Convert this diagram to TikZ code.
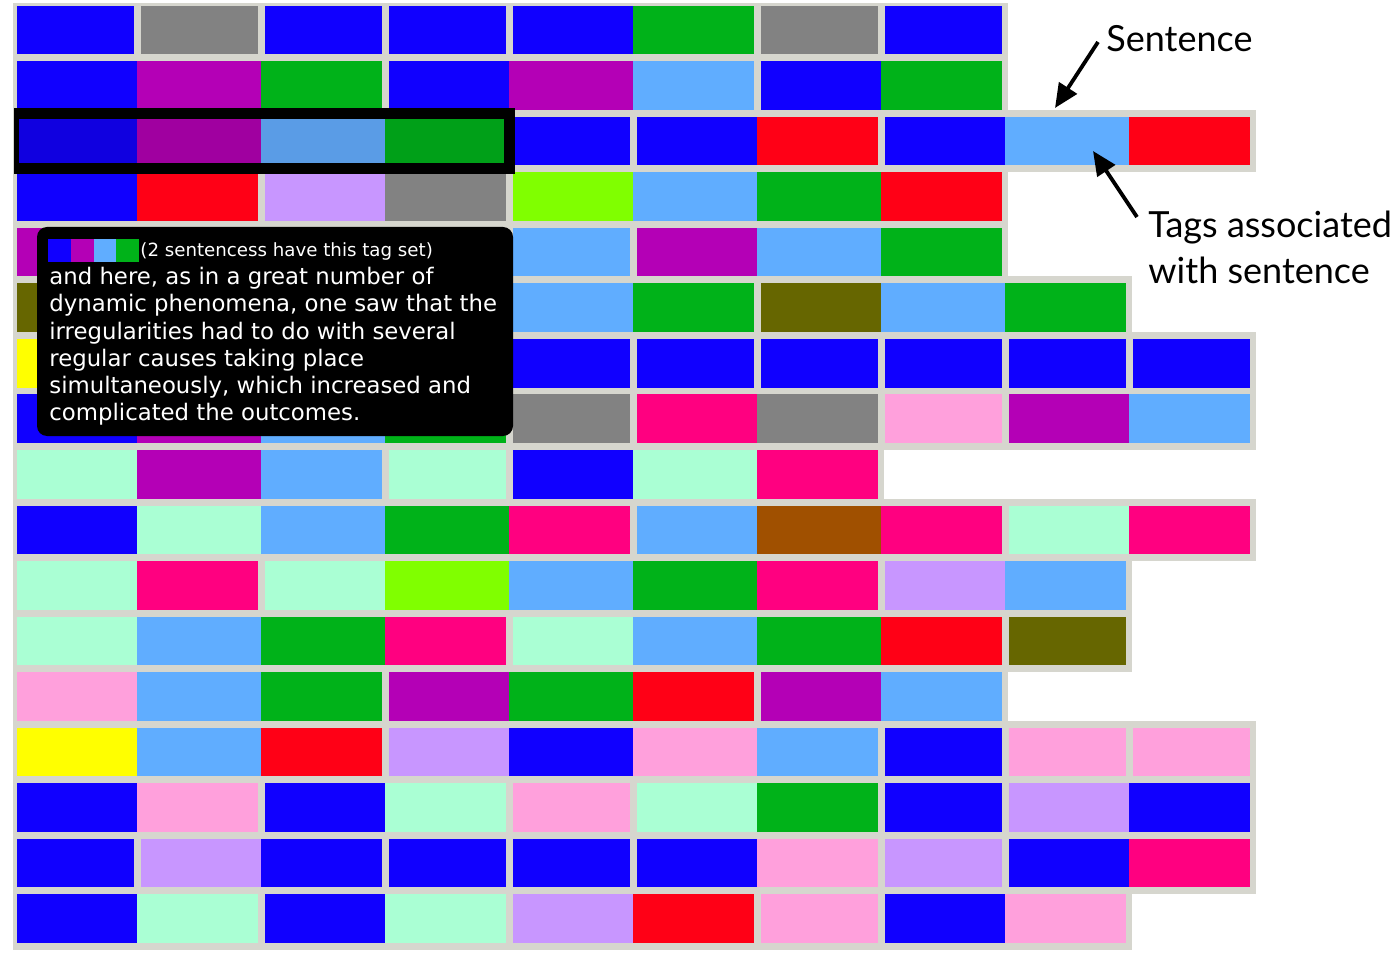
\documentclass[tikz,border=0pt]{standalone}
\usepackage{fontspec}
\usetikzlibrary{arrows.meta}
\newfontfamily\tipfont{DejaVu Sans}
\newfontfamily\labfont{Lato}
\definecolor{cB}{HTML}{1000FF}
\definecolor{cG}{HTML}{828282}
\definecolor{cGr}{HTML}{00B219}
\definecolor{cM}{HTML}{B400B6}
\definecolor{cL}{HTML}{60ADFF}
\definecolor{cR}{HTML}{FF0016}
\definecolor{cV}{HTML}{C896FF}
\definecolor{cY}{HTML}{80FF00}
\definecolor{cO}{HTML}{666600}
\definecolor{cYe}{HTML}{FFFF00}
\definecolor{cP}{HTML}{FF0080}
\definecolor{cK}{HTML}{FFA0DC}
\definecolor{cT}{HTML}{AAFFD4}
\definecolor{cBr}{HTML}{A05000}
\definecolor{dB}{HTML}{1000E0}
\definecolor{dM}{HTML}{A000A0}
\definecolor{dL}{HTML}{5A9CE6}
\definecolor{dGr}{HTML}{00A018}
\definecolor{barcol}{HTML}{D6D6CE}
\pgfdeclarelayer{bg}
\pgfsetlayers{bg,main}
\newcommand\sentrow[3]{%
  \pgfmathsetmacro\ytop{5.7+55.54*#1}%
  \pgfmathsetmacro\ybot{\ytop+48.6}%
  \pgfmathsetmacro\btop{max(\ytop-7,2.7)}%
  \begin{pgfonlayer}{bg}
    \fill[barcol] (13,\btop) rectangle (16+124*#2,\ybot+7);
  \end{pgfonlayer}
  \foreach \cellc/\gapl/\gapr [count=\k from 0] in {#3} {
    \fill[c\cellc] (13+124*\k+4*\gapl,\ytop) rectangle (137+124*\k-3*\gapr,\ybot);
  }%
}
\tikzset{
  tiptext/.style={text=white, inner sep=0pt, anchor=base west, font=\tipfont\fontsize{11.4}{13.65}\selectfont},
  tiphead/.style={text=white, inner sep=0pt, anchor=base west, font=\tipfont\fontsize{9.1}{11}\selectfont},
  labtext/.style={text=black, inner sep=0pt, anchor=base west, font=\labfont\fontsize{18}{23}\selectfont},
  arr/.style={-{Triangle[length=12pt,width=10.5pt]}, line width=1.9pt, black},
}
\begin{document}
\begin{tikzpicture}[x=0.5pt,y=-0.5pt]
\useasboundingbox (0,0) rectangle (1391,962);
\sentrow{0}{8}{B/1/1,G/1/1,B/1/1,B/1/1,B/1/0,Gr/0/1,G/1/1,B/1/1}
\sentrow{1}{8}{B/1/0,M/0/0,Gr/0/1,B/1/0,M/0/0,L/0/1,B/1/0,Gr/0/1}
\sentrow{2}{10}{B/1/0,M/0/0,L/0/0,Gr/0/1,B/1/1,B/1/0,R/0/1,B/1/0,L/0/0,R/0/1}
\sentrow{3}{8}{B/1/0,R/0/1,V/1/0,G/0/1,Y/1/0,L/0/0,Gr/0/0,R/0/1}
\sentrow{4}{8}{M/1/1,B/1/1,L/1/1,Gr/1/1,L/1/1,M/1/0,L/0/0,Gr/0/1}
\sentrow{5}{9}{O/1/1,B/1/1,L/1/1,Gr/1/1,L/1/0,Gr/0/1,O/1/0,L/0/0,Gr/0/1}
\sentrow{6}{10}{Ye/1/1,B/1/1,L/1/1,Gr/1/1,B/1/1,B/1/1,B/1/1,B/1/1,B/1/1,B/1/1}
\sentrow{7}{10}{B/1/0,M/0/0,L/0/0,Gr/0/1,G/1/1,P/1/0,G/0/1,K/1/1,M/1/0,L/0/1}
\sentrow{8}{7}{T/1/0,M/0/0,L/0/1,T/1/1,B/1/0,T/0/0,P/0/1}
\sentrow{9}{10}{B/1/0,T/0/0,L/0/0,Gr/0/0,P/0/1,L/1/0,Br/0/0,P/0/1,T/1/0,P/0/1}
\sentrow{10}{9}{T/1/0,P/0/1,T/1/0,Y/0/0,L/0/0,Gr/0/0,P/0/1,V/1/0,L/0/1}
\sentrow{11}{9}{T/1/0,L/0/0,Gr/0/0,P/0/1,T/1/0,L/0/0,Gr/0/0,R/0/1,O/1/1}
\sentrow{12}{8}{K/1/0,L/0/0,Gr/0/1,M/1/0,Gr/0/0,R/0/1,M/1/0,L/0/1}
\sentrow{13}{10}{Ye/1/0,L/0/0,R/0/1,V/1/0,B/0/0,K/0/0,L/0/1,B/1/1,K/1/1,K/1/1}
\sentrow{14}{10}{B/1/0,K/0/1,B/1/0,T/0/1,K/1/1,T/1/0,Gr/0/1,B/1/1,V/1/0,B/0/1}
\sentrow{15}{10}{B/1/1,V/1/0,B/0/1,B/1/1,B/1/1,B/1/0,K/0/1,V/1/1,B/1/0,P/0/1}
\sentrow{16}{9}{B/1/0,T/0/1,B/1/0,T/0/1,V/1/0,R/0/1,K/1/1,B/1/0,K/0/1}
% selected tag set
\fill[black] (14,108) rectangle (515,174);
\fill[dB] (19,119) rectangle (137,163);
\fill[dM] (137,119) rectangle (261,163);
\fill[dL] (261,119) rectangle (385,163);
\fill[dGr] (385,119) rectangle (504,163);
% tooltip
\fill[black, rounded corners=5pt] (37,227) rectangle (513,436);
\fill[cB] (48,239) rectangle (71,262);
\fill[cM] (71,239) rectangle (93.5,262);
\fill[cL] (93.5,239) rectangle (116,262);
\fill[cGr] (116,239) rectangle (139,262);
\node[tiphead] (tiph) at (140,256.5) {(2 sentencess have this tag set)};
\node[tiptext] (tip1) at (49,284.5) {and here, as in a great number of};
\node[tiptext] (tip2) at (49,311.8) {dynamic phenomena, one saw that the};
\node[tiptext] (tip3) at (49,339.1) {irregularities had to do with several};
\node[tiptext] (tip4) at (49,366.4) {regular causes taking place};
\node[tiptext] (tip5) at (49,393.7) {simultaneously, which increased and};
\node[tiptext] (tip6) at (49,421) {complicated the outcomes.};
% labels
\node[labtext] (sent) at (1106,51.7) {Sentence};
\node[labtext] (tags1) at (1148,237.3) {Tags associated};
\node[labtext] (tags2) at (1148,283.3) {with sentence};
\coordinate (sentTail) at (1098,42);
\coordinate (sentTip) at (1055,108);
\coordinate (tagsTail) at (1137,217);
\coordinate (tagsTip) at (1093,151);
\draw[arr] (sentTail) -- (sentTip);
\draw[arr] (tagsTail) -- (tagsTip);
\end{tikzpicture}
\end{document}
